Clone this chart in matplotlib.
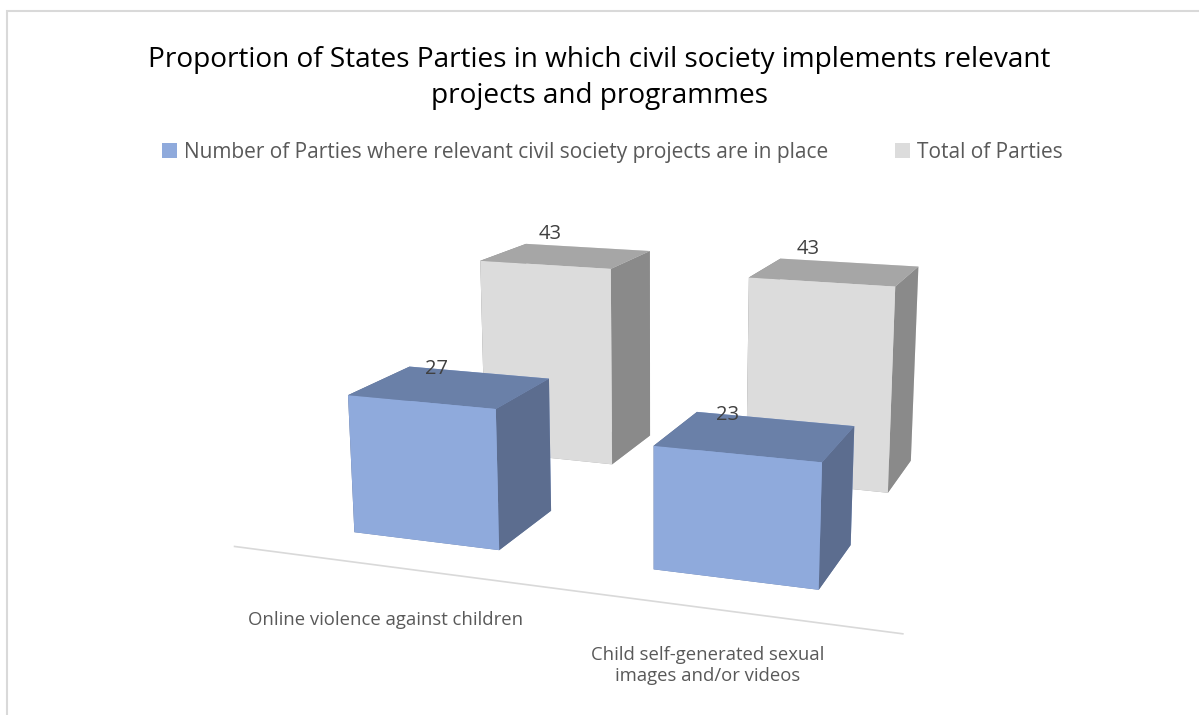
import matplotlib.pyplot as plt
from matplotlib.patches import Patch, Rectangle
import numpy as np

plt.rcParams['font.family'] = ['Open Sans', 'DejaVu Sans']

# data
categories = ['Online violence against children',
              'Child self-generated sexual\nimages and/or videos']
with_projects = [27, 23]
total_parties = [43, 43]
series_names = ['Number of Parties where relevant civil society projects are in place',
                'Total of Parties']

blue = {'front': '#8FAADC', 'top': '#6A80A8', 'side': '#5C6D8F', 'pad': 0.0}
grey = {'front': '#DCDCDC', 'top': '#A6A6A6', 'side': '#8A8A8A', 'pad': 2.5}


def face_colors(c):
    # bar3d face order: bottom, top, -y, +y, -x, +x
    return [c['top'], c['top'], c['front'], c['front'], c['side'], c['side']]


fig = plt.figure(figsize=(11.99, 7.15), dpi=100)

# light frame around the chart area
fig.patches.append(Rectangle((7 / 1199, -0.1), 1.2, (715 - 11) / 715 + 0.1,
                             transform=fig.transFigure, fill=False,
                             edgecolor='#D9D9D9', lw=1.5))

ax = fig.add_axes([0.114, -0.026, 0.85, 0.95], projection='3d')
ax.set_proj_type('persp', focal_length=0.45)
ax.view_init(elev=14, azim=-70.5)
ax.computed_zorder = False
ax.set_axis_off()

x = np.arange(len(categories))
bw, bd = 0.5, 0.42
rows = [(1, total_parties, grey), (0, with_projects, blue)]   # back row first

for row, vals, c in rows:
    for i in x[::-1]:
        ax.bar3d(i - bw / 2, row, 0, bw, bd, vals[i], color=face_colors(c),
                 shade=False, edgecolor='none', linewidth=0)

# floor line in front of the bars
ax.plot([-0.53, 1.54], [-0.25, -0.25], [0, 0], color='#D9D9D9', lw=1.2,
        zorder=0, clip_on=False)

# value labels
for row, vals, c in rows:
    for i in x:
        ax.text(i - 0.15, row + bd, vals[i] + c['pad'], str(vals[i]),
                ha='center', va='center', fontsize=14.5, color='#404040')

# category labels
for i in x:
    ax.text(i + 0.01, -0.3, -9, categories[i], ha='center', va='center',
            fontsize=13.3, color='#595959')

ax.set_xlim(-0.5, 1.5)
ax.set_ylim(0, 1.5)
ax.set_zlim(0, 45)
ax.set_box_aspect((1.94, 1.4, 0.72), zoom=1.10)

fig.suptitle('Proportion of States Parties in which civil society implements relevant\n'
             'projects and programmes', y=0.935, fontsize=20.2, color='black',
             linespacing=1.35)

handles = [Patch(facecolor=blue['front']), Patch(facecolor=grey['front'])]
fig.legend(handles, series_names, loc='center', bbox_to_anchor=(0.511, 0.787),
           ncol=2, frameon=False, fontsize=15, labelcolor='#595959',
           handlelength=0.7, handleheight=0.7, handletextpad=0.35, columnspacing=3.2)

fig.savefig('out.png', dpi=100)
